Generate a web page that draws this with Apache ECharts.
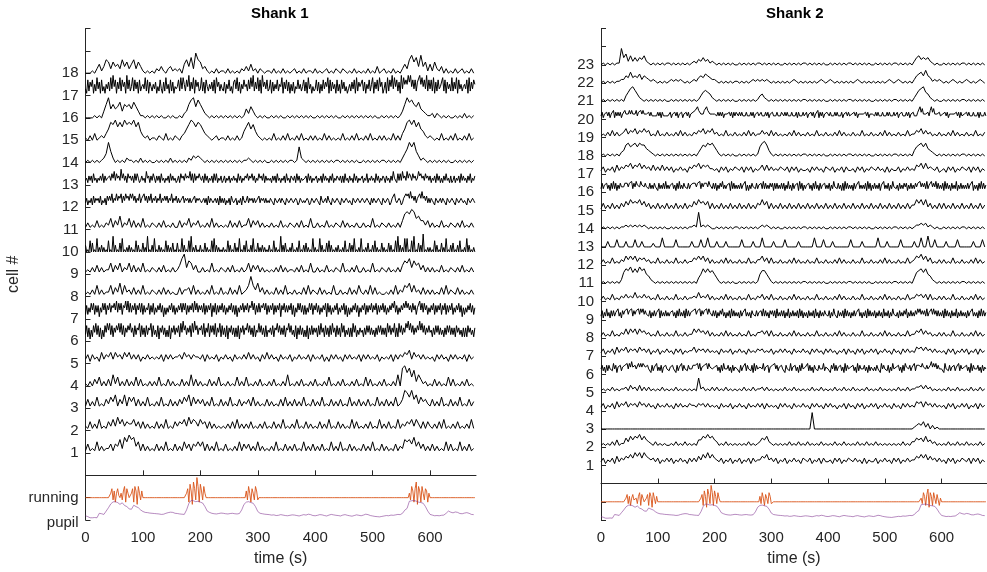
<!DOCTYPE html>
<html><head><meta charset="utf-8">
<script src="https://cdn.jsdelivr.net/npm/echarts@6/dist/echarts.min.js"></script>
<style>html,body{margin:0;padding:0;background:#fff}#c{width:987px;height:572px}</style>
</head><body><div id="c"></div>
<script>
// traces are sampled every 4 s (170 chars) or every 2 s (340 chars); running uses 2 s
const STEP_COARSE = 4, STEP_FINE = 2, RUN_STEP = 2, PUPIL_STEP = 4;
const xTicks = [0,100,200,300,400,500,600];
const shankTitles = ["Shank 1", "Shank 2"];
// dF/F traces, one char per sample, value = digit/10 above the cell's baseline (cell 1 first)
const shank1 = [
"1412151312 2414362758 6735141312 1413151214 1315241435 3514131512 1412131514 2413151312 1315121413 1412151314 1314121513 1512141312 1413151214 1312141326 5647352413 1413121514 1215131412",
"2141315121 4252635243 3524141312 1413151214 2435263542 5341413121 2131415131 3141213141 2141315121 3151214131 2141315121 4131215141 2131412151 3141215132 4352531414 2131415121 3141213151",
"1413151214 2536142615 3514131512 1315121413 1425361524 2413151214 1315121413 2415131214 1312141513 1413151214 1315121413 1412151314 1314121513 1413151248 7584625342 1413151214 1315121413",
"1020314020 3051402030 2040301020 2040103020 1030205030 2010302040 1020104020 4010203010 2030102050 1020301020 3010204010 2030102030 1040301020 3010205089 6847253120 1030201040 3010203010",
"2414231524 3525342535 2424132423 2324142423 3425342433 2414232413 2423142324 2524231425 2423142324 1324232414 2324131424 2314242324 1424232413 2324142435 4625342423 2314242314 2423241423",
"37261527483726152748 58372647584837264758 46273658273627365827 35271647362527164736 47284957364728495736 57382648274738264827 36271647362627164736 58473627254847362725 46372658473637265847 35271637362527163736 46273846273627384627 36284725362628472536 45263747363526374736 36284736482628473648 69584736475958473647 45263747363526374736 36274635262627463526",
"26253747263615374726 47365748374726584837 36472647372635472637 25364736152536473625 36473747263647384736 46372636471637263647 36253647362615364736 47365847263736574726 36472636471647363647 26153747362625374726 47362536471736253647 25364726152536473615 36472636473647263647 36253647583625364758 57463746255847374625 36472636472647263647 25364736152536473625",
"1213151312 2514261523 1413151213 2131413121 1413341513 1213151214 1214131512 3595362413 1214131512 1312141513 2141312151 1312141315 2131514121 1213151325 4625231413 1312141513 2141312131",
"1213141312 2514251325 1413151213 2131412131 2479365241 1312151213 2131412131 2514241312 1213141312 2131412151 1312141213 2151213141 1312151213 2131213146 5736452413 1312141213 2131412131",
"30105040106020302010 50107030104060102030 20105030104020701030 60103020105030204010 40106030105070203010 30104020105060302010 20105030104020601030 50103060104020302010 30105020107030401020 40102050103040201060 20106030104050301020 30102050104030601020 60102040103050201040 20104030105070302060 60105070104030801020 20105030104020601030 40103050102060301020",
"1312141213 2514261325 1413151213 2131412131 1413251324 1213151312 1214131412 2514241312 1312141213 2131412151 1312141213 2141312131 1312151213 2131213147 8798564424 1312141213 2131412131",
"24132415243425132415 35362436354625364536 46352436244635253624 35243624353524362435 24233524342423352434 32342415243234241524 24132415322413241532 35243424233524342423 24321432242432143224 32243124323224312432 24321532242532143224 32143224323214322432 24322432142432243214 32243124463224312446 56474535245647453524 24321432242432143224 32143224323214322432",
"23142415231324251423 34253625342735241534 24152531242316341425 31424152313241524231 24153425343625152435 32415241324152513241 24132413242315241324 35243524132534251423 23142415231324152314 32415241322341524132 24132415242314251324 32414152314231524132 24132513242315241324 31423142633152526342 63542534236453425342 41324152413142523141 24132415242314251324",
"0101010124 9520101021 1010201010 0101010201 0101021323 2101010101 0101010101 1210101010 0101010101 1017210101 0101010101 1010101010 0101010101 1010101024 6979531210 1010101010 0101010101",
"1020301213 5879686978 7968421201 1021030102 1023579868 7532101201 1020102014 6857421010 1030102030 1020301020 2010302010 1030102030 1020301020 2010302035 8979685421 2101030102 0301020301",
"0000101036 9464573656 4753110101 0101001010 0102368958 6421010101 0101010101 4253101010 0101010010 1010101010 0101010101 0010101010 1010101001 0101010136 9786574321 1202101010 0101020101",
"31726471528361724153 62839471638274619372 48273617245382716425 36142731628351726143 47283852749263817462 38261742536271846253 26153724167382615374 52738492638271946372 37162537254816372615 26143735247261835142 37261527364817263517 25173624135263718264 47261537258163728461 36182749384726193857 59694737266958473927 37281627344827163528 26381735245371826375",
"0001024136 5253426352 4625310101 0213102312 1204637296 5231010201 1020101021 3141202101 1020102010 1201020110 2010120102 1021010201 0102010301 2010201024 2685738351 4152130201 0201201020"
];
const shank2 = [
"2413241524 3546475747 5434241324 2413242314 2425364746 4324132413 2413241423 3546342413 2413242314 3241324142 2314241324 3242314132 2413242314 2413242335 4646353424 2314241324 3241424132",
"1212131412 2536465746 4321312121 1213121312 1214465756 4312131212 1212131212 3546321212 1213121312 1312121312 1213121312 1213121312 1312121212 1213121335 4536342312 1213121312 1312121312",
"0000000000 0000000000 0000000000 0000000000 0000000000 0000000000 0000000000 0000000000 0000000000 0009000000 0000000000 0000000000 0000000000 0000000012 3241302010 0000000000 0000000000",
"2413241524 3524342534 2423142324 2314242324 3324342423 2314232413 2423142324 2414232314 2423142324 2314242314 2423132414 2314241324 2413242314 2314242325 4525342423 2314241324 2413241423",
"1212131212 2314231413 1312121312 1213121212 1218231213 1312131212 1213121312 2313121212 1312131212 1213121312 1213121312 1312121312 1213121212 1312131223 3424231212 1213121312 1213121312",
"35241525342635143524 45463647455326464654 35341524362425143534 24353415243625342534 35454636243546364534 43524152634352415243 34152436253425162534 45362435143546352435 34153426243524152634 43625241534253436243 34153625243524162534 43524162534352415243 24253416353425142634 43524152644352436254 56464535345746463534 34163425243524362534 43524162534352415243",
"2413241524 3524342534 2413241324 2314241323 3524342423 2314232413 2423142324 3423241324 2423142324 2314242314 2423132414 2314241324 2413242314 2314242325 4535342423 2314241324 2413241423",
"1312141213 2525352534 2312141213 1214121312 2535342413 1213141312 1312141213 3424141213 1213141312 1312141213 1213141312 1312141213 1213141312 1312141224 3524231213 1312141213 1213141312",
"25142624152524362415 35463546253546364635 34251425243615242524 24352415262425162524 35463546253546364525 25142536241425162524 24152436242415342524 35262524153525162425 25142614252425162514 24152425162415242534 25142634152425162524 14252436241425162524 25142524162425142634 24152425361425242536 46353526244636352524 25162524152426142524 24152436242415262524",
"1312141213 2423252324 2312141213 1214121312 2325232413 1213141312 1312141213 2413141213 1213141312 1312141213 1213141312 1312141213 1213141312 1312141224 3424141213 1312141213 1213141312",
"0101010102 6879686978 5421010101 0101010101 0103586867 5310101010 0101010101 5775310101 0101010101 1010101010 0101010101 1010101010 0101010101 1010101036 7868542101 0101010101 1010101010",
"1312141213 2535352434 2312141213 1214121312 2435352413 1213141312 1312141213 3524141213 1213141312 1312141213 1213141312 1312141213 1213141312 1312141235 4635241213 1312141213 1213141312",
"0003000400 0300040030 0002000500 0004000000 3000400500 0300030000 0040000300 0500003000 0400000300 0000500040 0030000000 4000030000 0050003000 0040000030 0500600400 0030000400 0000300040",
"0101010101 1212121212 1010101010 0101010101 1219121210 0101010101 1010101010 1212101010 0101010101 1010101010 0101010101 1010101010 0101010101 1010101012 2323121010 0101010101 1010101010",
"1413141314 2536454635 2413141314 1314131413 2536453514 1314131413 1413141314 3635141314 1314131413 1413141314 1314131413 1413141314 1314131413 1413141336 4636241314 1413141314 1314131413",
"25243524152625142534 35453546253645364535 34252425341524252624 24352415262425342524 35453546253545364525 25142536242435162524 24252436141425342524 35262524253515252425 25142624152435162514 24352415262415243524 25142634252415162524 24152436242425162514 25242514362425142634 24152425351425242535 46353526244635362524 25162524152426142524 24252436142415262524",
"2413241524 3546354635 3425242524 2413242314 3546354533 2314241324 3241424132 3525242324 3241424132 2314242314 3241324142 2314241324 3242314132 2413242325 4636343241 2314241324 3241424132",
"0101010102 3675675766 4321010101 0101010101 0102465767 5310101010 0101010101 5786310101 0101010101 1010101010 0101010101 1010101010 0101010101 1010101035 6757432101 0101010101 1010101010",
"1213141312 3524352435 3412141213 1213141312 1324352435 2312141213 1213141312 2423141312 1213141312 1312141213 1213141312 1312141213 1213141312 1312141224 3524231213 1213141312 1312141213",
"24132424132514242413 35343535343524353534 32424232324241423232 24132424132413242413 34354756343547563434 33242424133324241424 32424232423242413242 34232424132423242324 32424232423241423242 24132424132514241324 32423242423241324242 23242413232324241323 32424232423242423242 24132423242413242324 57463432425746343242 23242413232324241423 32424232423241423242",
"0101010101 0357864210 1010101010 0101010101 0101356542 1010101010 0101010101 3421010101 0101010101 1010101010 0101010101 1010101010 0101010101 1010101024 6785421010 0101010101 1010101010",
"0101010112 2436343524 3212101010 1212121010 1213435432 2101010101 1010101212 1212101010 1010121010 1010101210 1210101010 1012101010 1010101210 1210101024 5647431212 1010121010 1210101210",
"0101010119 4625242435 2101010101 1010101010 1213242312 1010101010 0101010101 1010101010 0101010101 1010101010 0101010101 1010101010 0101010101 1010101024 5343421010 0101010101 1010101010"
];
// pupil size (percent of one row above the bottom), 4 s samples
const pupil = [19,15,10,10,11,10,30,28,25,40, 55,72,81,82,78,70,77,65,60,50, 48,66,60,55,45,38,34,33,31,30,
 29,28,27,25,26,30,33,35,34,30, 29,27,26,25,45,74,88,86,82,84, 80,76,60,40,34,30,28,27,29,31,
 30,28,27,29,30,28,27,29,45,70, 80,82,78,75,60,38,30,28,26,25, 24,22,23,20,21,24,22,20,19,21,
 23,22,20,18,21,24,22,26,24,20, 19,21,24,23,20,18,22,25,23,21, 20,18,22,24,21,19,17,20,23,21,
 19,22,26,24,20,18,16,15,14,16, 18,20,19,22,21,23,25,24,30,44, 52,84,86,88,84,80,78,75,60,40,
 25,22,19,20,19,21,22,30,40,35, 32,36,34,29,28,31,33,30,25,24];
// running speed, 2 s samples: '0'-'9' = +0..0.9 rows, 'a'-'e' = -0.1..-0.5 rows
const running =
"00000000000000000000" + "0024a3b24102a35b4200" + "24b53c52a30000000000" + "00000000000000000000" +
"0000000024b63c74a95b" + "63a52000000000000000" + "00000000000000000000" + "3a52b42a53a000000000" +
"00000000000000000000" + "00000000000000000000" + "00000000000000000000" + "00000000000000000000" +
"00000000000000000000" + "00000000000000000000" + "002a53b47c53b52a43b2" + "00000000000000000000" +
"00000000000000000000";

function decodeTrace(s, base) {
  const c = s.replace(/\s/g, '');
  const step = c.length > 200 ? STEP_FINE : STEP_COARSE;
  const out = [];
  for (let i = 0; i < c.length; i++) out.push([i * step, base + parseInt(c[i], 10) / 10]);
  return out;
}
function decodeRun(s, base) {
  const out = [];
  for (let i = 0; i < s.length; i++) {
    const ch = s[i];
    const v = /[0-9]/.test(ch) ? parseInt(ch, 10) / 10 : -((ch.charCodeAt(0) - 96) / 10);
    out.push([i * RUN_STEP, base + v]);
  }
  return out;
}
const pupilData = pupil.map((p, i) => [i * PUPIL_STEP, -2 + p / 100]);
const runData = decodeRun(running, -1);

const FONT = "'Liberation Sans', Arial, Helvetica, sans-serif";
const AX = '#262626';
function xAxisCfg(gi) {
  return {
    type: 'value', gridIndex: gi, min: 0, max: 680, interval: 100,
    axisLine: {lineStyle: {color: AX, width: 1}},
    axisTick: {inside: true, length: 5, lineStyle: {color: AX}, customValues: xTicks},
    axisLabel: {color: AX, fontSize: 15, fontFamily: FONT, margin: 10, customValues: xTicks},
    splitLine: {show: false},
    name: 'time (s)', nameLocation: 'middle', nameGap: 31,
    nameTextStyle: {color: AX, fontSize: 16, fontFamily: FONT}
  };
}
function yAxisCfg(gi, n, withBehav) {
  const vals = [];
  for (let v = -2; v <= n + 2; v++) vals.push(v);
  return {
    type: 'value', gridIndex: gi, min: -2, max: n + 2, interval: 1,
    axisLine: {show: true, lineStyle: {color: AX, width: 1}},
    axisTick: {show: true, inside: true, length: 5, lineStyle: {color: AX}, customValues: vals},
    axisLabel: {color: AX, fontSize: 15, fontFamily: FONT, margin: 7, customValues: vals,
      formatter: v => {
        if (v >= 1 && v <= n) return String(v);
        if (withBehav && v === -1) return 'running';
        if (withBehav && v === -2) return '{p|pupil}';
        return '';
      },
      rich: {p: {fontSize: 15, fontFamily: FONT, color: AX, padding: [6, 0, 0, 0]}}
    },
    splitLine: {show: false},
    name: withBehav ? 'cell #' : '', nameLocation: 'middle', nameGap: 64, nameRotate: 90,
    nameTextStyle: {color: AX, fontSize: 16, fontFamily: FONT}
  };
}
const series = [];
function addShank(traces, gi) {
  traces.forEach((s, k) => {
    series.push({type: 'line', xAxisIndex: gi, yAxisIndex: gi, data: decodeTrace(s, k + 1),
      showSymbol: false, symbol: 'none', lineStyle: {color: '#000', width: 1}, silent: true, z: 3});
  });
  series.push({type: 'line', xAxisIndex: gi, yAxisIndex: gi, data: runData, showSymbol: false, symbol: 'none',
    lineStyle: {color: '#D95319', width: 0.9}, silent: true, z: 2});
  series.push({type: 'line', xAxisIndex: gi, yAxisIndex: gi, data: pupilData, showSymbol: false, symbol: 'none',
    lineStyle: {color: '#7E2F8E', width: 0.8, opacity: 0.7}, silent: true, z: 2});
}
addShank(shank1, 0);
addShank(shank2, 1);

const chart = echarts.init(document.getElementById('c'), null, {renderer: 'canvas'});
chart.setOption({
  animation: false,
  backgroundColor: '#fff',
  grid: [
    {left: 85.5, top: 28.5, width: 390.5, height: 493, containLabel: false},
    {left: 601, top: 28.5, width: 390.5, height: 493, containLabel: false}
  ],
  xAxis: [xAxisCfg(0), xAxisCfg(1)],
  yAxis: [yAxisCfg(0, shank1.length, true), yAxisCfg(1, shank2.length, false)],
  graphic: [
    {type: 'text', left: 281 - 30, top: 6, style: {text: shankTitles[0], font: "bold 15px " + FONT, fill: '#000'}},
    {type: 'text', left: 796 - 30, top: 6, style: {text: shankTitles[1], font: "bold 15px " + FONT, fill: '#000'}}
  ],
  series: series
});
</script></body></html>
